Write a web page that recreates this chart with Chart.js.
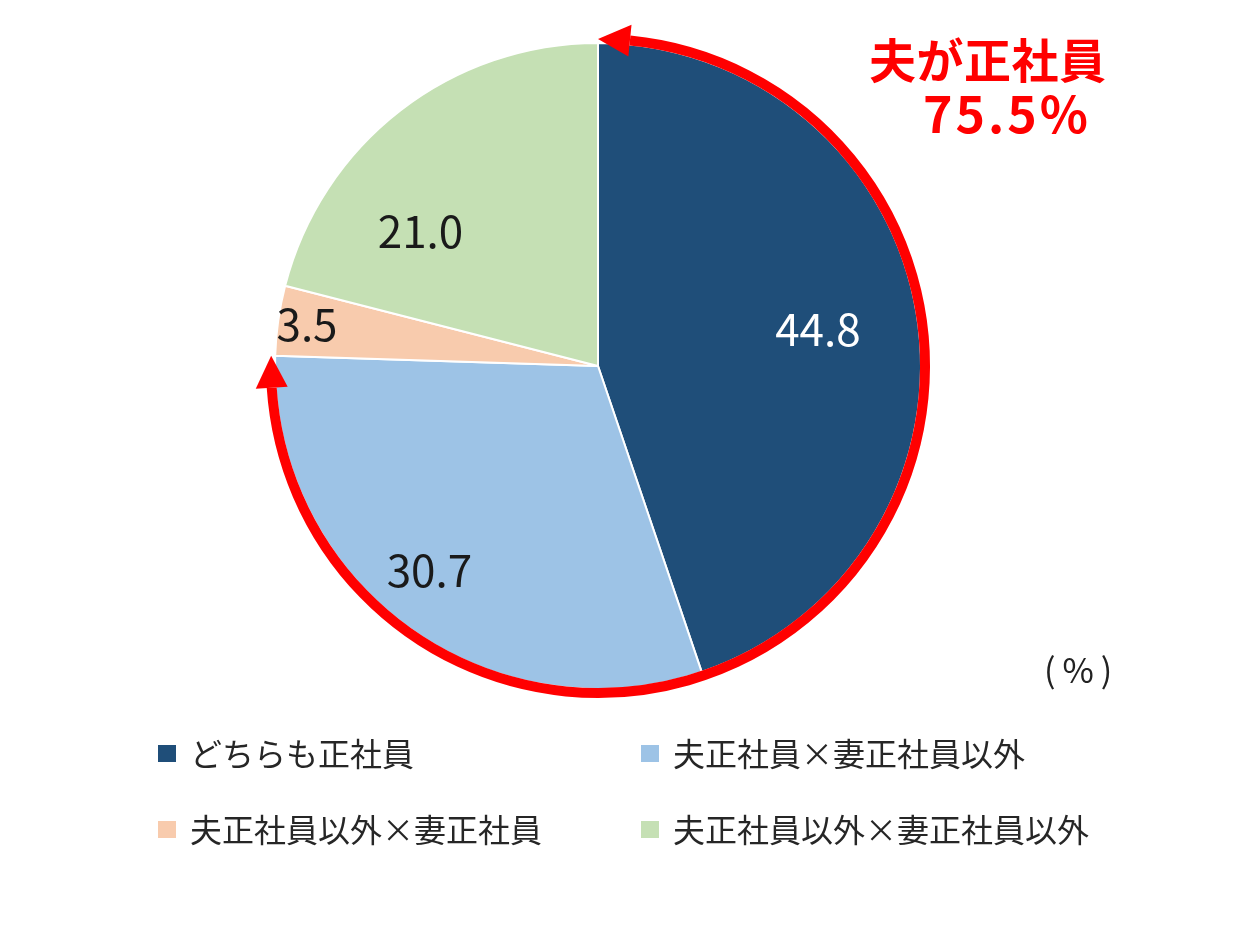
<!DOCTYPE html>
<html lang="ja">
<head>
<meta charset="utf-8">
<script src="https://cdn.jsdelivr.net/npm/chart.js@4.4.0/dist/chart.umd.min.js"></script>
<style>
    body { margin: 0; background: #fff; }
    #wrap { position: relative; width: 1244px; height: 936px; font-family: "Noto Sans CJK JP", sans-serif; }
    #chart { position: absolute; left: 0; top: 0; }
    .note { position: absolute; color: #ff0000; font-weight: bold; white-space: nowrap; line-height: 1; }
    .unit { position: absolute; left: 1044px; top: 652px; font-size: 34px; letter-spacing: 7px; color: #222; line-height: 1; }
    .legendItem { position: absolute; font-size: 32px; color: #262626; white-space: nowrap; line-height: 1; }
    .legendItem span { display: inline-block; width: 18px; height: 17px; margin-right: 14px; vertical-align: 4px; }
</style>
</head>
<body>
<div id="wrap">
    <canvas id="chart" width="1244" height="936"></canvas>
    <div class="note" style="left:869px; top:34px; font-size:47px; letter-spacing:0.5px;">夫が正社員</div>
    <div class="note" style="left:923px; top:86px; font-size:50px; letter-spacing:3px;">75.5%</div>
    <div class="unit">(%)</div>
    <div id="legend"></div>
</div>
<script>
const categories = ["どちらも正社員", "夫正社員×妻正社員以外", "夫正社員以外×妻正社員", "夫正社員以外×妻正社員以外"];
const shares = [44.8, 30.7, 3.5, 21.0];
const sliceColors = ["#1f4e79", "#9dc3e6", "#f8cbad", "#c5e0b4"];
const labelColors = ["#ffffff", "#1a1a1a", "#1a1a1a", "#1a1a1a"];
const husbandRegular = [0, 1]; // slices wrapped by the red arrow

// legend, two columns
const legendPos = [[158, 736], [641, 736], [158, 812], [641, 812]];
const legendBox = document.getElementById("legend");
categories.forEach((c, i) => {
    const el = document.createElement("div");
    el.className = "legendItem";
    el.style.left = legendPos[i][0] + "px";
    el.style.top = legendPos[i][1] + "px";
    el.innerHTML = '<span style="background:' + sliceColors[i] + '"></span>' + c;
    legendBox.appendChild(el);
});

const sliceLabels = {
    id: "sliceLabels",
    afterDatasetsDraw(chart, args, opts) {
        const ctx = chart.ctx;
        const arcs = chart.getDatasetMeta(0).data;
        ctx.save();
        ctx.font = "44px 'Noto Sans CJK JP'";
        ctx.textAlign = "center";
        ctx.textBaseline = "middle";
        arcs.forEach((arc, i) => {
            const mid = (arc.startAngle + arc.endAngle) / 2 + opts.shift[i] * Math.PI / 180;
            const r = arc.outerRadius * opts.radius[i];
            ctx.fillStyle = labelColors[i];
            ctx.fillText(shares[i].toFixed(1), arc.x + Math.cos(mid) * r, arc.y + Math.sin(mid) * r);
        });
        ctx.restore();
    }
};

const redArrow = {
    id: "redArrow",
    afterDatasetsDraw(chart) {
        const ctx = chart.ctx;
        const arcs = chart.getDatasetMeta(0).data;
        const first = arcs[husbandRegular[0]];
        const last = arcs[husbandRegular[husbandRegular.length - 1]];
        const cx = first.x, cy = first.y;
        const rr = first.outerRadius + 4;
        const headLen = 32, headHalf = 16;
        const a0 = first.startAngle, a1 = last.endAngle;
        const d = headLen / rr;
        ctx.save();
        ctx.strokeStyle = "#ff0000";
        ctx.fillStyle = "#ff0000";
        ctx.lineWidth = 10;
        ctx.beginPath();
        ctx.arc(cx, cy, rr, a0 + d, a1 - d);
        ctx.stroke();
        const head = (tipA, baseA) => {
            const bx = cx + Math.cos(baseA) * rr, by = cy + Math.sin(baseA) * rr;
            const ux = Math.cos(baseA), uy = Math.sin(baseA);
            ctx.beginPath();
            ctx.moveTo(cx + Math.cos(tipA) * rr, cy + Math.sin(tipA) * rr);
            ctx.lineTo(bx + ux * headHalf, by + uy * headHalf);
            ctx.lineTo(bx - ux * headHalf, by - uy * headHalf);
            ctx.closePath();
            ctx.fill();
        };
        head(a0, a0 + d);
        head(a1, a1 - d);
        ctx.restore();
    }
};

new Chart(document.getElementById("chart").getContext("2d"), {
    type: "pie",
    data: {
        labels: categories,
        datasets: [{
            data: shares,
            backgroundColor: sliceColors,
            borderColor: "#ffffff",
            borderWidth: 2,
            hoverOffset: 0
        }]
    },
    options: {
        responsive: false,
        animation: false,
        layout: { padding: { left: 274, right: 322, top: 42, bottom: 246 } },
        plugins: {
            legend: { display: false },
            tooltip: { enabled: false },
            sliceLabels: { radius: [0.69, 0.82, 0.91, 0.69], shift: [0, 3, 0, -15] }
        }
    },
    plugins: [sliceLabels, redArrow]
});
</script>
</body>
</html>
